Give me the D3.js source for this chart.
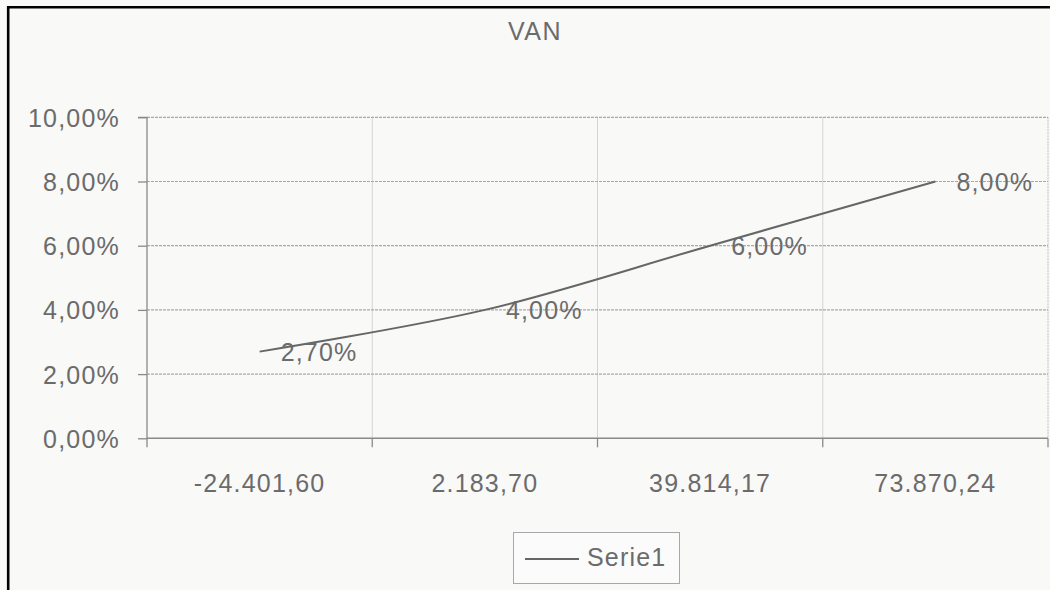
<!DOCTYPE html>
<html>
<head>
<meta charset="utf-8">
<script src="https://cdn.jsdelivr.net/npm/d3@7"></script>
<style>
  html, body { margin: 0; padding: 0; background: #f9f9f8; }
  svg { display: block; }
  text { font-family: "Liberation Sans", Arial, sans-serif; fill: #6b6b6b; }
</style>
</head>
<body>
<svg id="chart" width="1050" height="590"></svg>
<script>
const title = "VAN";
const categories = ["-24.401,60", "2.183,70", "39.814,17", "73.870,24"];
const values = [2.70, 4.00, 6.00, 8.00];
const yTicks = [0, 2, 4, 6, 8, 10];
const seriesName = "Serie1";

const fmtPct = v => v.toFixed(2).replace(".", ",") + "%";

const svg = d3.select("#chart");
const W = 1050, H = 590;
const plot = { left: 147, right: 1048, top: 117.3, bottom: 438.3 };

svg.append("rect").attr("width", W).attr("height", H).attr("fill", "#f9f9f8");

const x = d3.scaleBand().domain(categories).range([plot.left, plot.right]).padding(0);
const y = d3.scaleLinear().domain([0, 10]).range([plot.bottom, plot.top]);

const FS = 25, LS = "1.2px";

// vertical gridlines at category boundaries
svg.append("g").selectAll("line")
  .data(categories.slice(1))
  .join("line")
  .attr("x1", d => x(d)).attr("x2", d => x(d))
  .attr("y1", plot.top).attr("y2", plot.bottom)
  .attr("stroke", "#d4d4d4").attr("stroke-width", 1);

// right border of plot
svg.append("line")
  .attr("x1", plot.right).attr("x2", plot.right)
  .attr("y1", plot.top).attr("y2", plot.bottom)
  .attr("stroke", "#bdbdbd").attr("stroke-width", 1).attr("stroke-dasharray", "2,1");

// horizontal gridlines
svg.append("g").selectAll("line")
  .data(yTicks.filter(d => d > 0))
  .join("line")
  .attr("x1", plot.left).attr("x2", plot.right)
  .attr("y1", d => y(d)).attr("y2", d => y(d))
  .attr("stroke", "#a9a9a9").attr("stroke-width", 1.2).attr("stroke-dasharray", "3,1");

// y axis
const yAxis = d3.axisLeft(y).tickValues(yTicks).tickSize(9).tickPadding(18).tickFormat(fmtPct);
const gy = svg.append("g").attr("transform", `translate(${plot.left},0)`).call(yAxis);
gy.select(".domain").attr("stroke", "#8a8a8a").attr("stroke-width", 1.3)
  .attr("d", `M-9,${plot.top}H0V${plot.bottom + 9}`);
gy.selectAll(".tick line").attr("stroke", "#8a8a8a").attr("stroke-width", 1.3);
gy.selectAll(".tick text")
  .attr("font-size", FS).attr("letter-spacing", LS)
  .attr("fill", "#6b6b6b").attr("font-family", "Liberation Sans, Arial, sans-serif")
  .attr("dy", "0.36em");

// x axis (ticks at category boundaries, labels at centers)
const gx = svg.append("g");
gx.append("line")
  .attr("x1", plot.left).attr("x2", plot.right)
  .attr("y1", plot.bottom).attr("y2", plot.bottom)
  .attr("stroke", "#8a8a8a").attr("stroke-width", 1.5);
gx.selectAll("line.tk")
  .data(categories.slice(1))
  .join("line").attr("class", "tk")
  .attr("x1", d => x(d)).attr("x2", d => x(d))
  .attr("y1", plot.bottom).attr("y2", plot.bottom + 9)
  .attr("stroke", "#8a8a8a").attr("stroke-width", 1.3);
gx.append("line")
  .attr("x1", plot.right).attr("x2", plot.right)
  .attr("y1", plot.bottom).attr("y2", plot.bottom + 9)
  .attr("stroke", "#8a8a8a").attr("stroke-width", 1.3);
gx.selectAll("text")
  .data(categories)
  .join("text")
  .attr("x", d => x(d) + x.bandwidth() / 2)
  .attr("y", 492)
  .attr("text-anchor", "middle")
  .attr("font-size", FS).attr("letter-spacing", LS)
  .text(d => d);

// line
const line = d3.line()
  .x((d, i) => x(categories[i]) + x.bandwidth() / 2)
  .y(d => y(d))
  .curve(d3.curveCatmullRom.alpha(0.5));
svg.append("path")
  .datum(values)
  .attr("d", line)
  .attr("fill", "none")
  .attr("stroke", "#666")
  .attr("stroke-width", 2);

// data labels
svg.append("g").selectAll("text")
  .data(values)
  .join("text")
  .attr("x", (d, i) => x(categories[i]) + x.bandwidth() / 2 + 21)
  .attr("y", d => y(d))
  .attr("dy", "0.36em")
  .attr("font-size", FS).attr("letter-spacing", LS)
  .text(d => fmtPct(d));

// title
svg.append("text")
  .attr("x", 535).attr("y", 39.5)
  .attr("text-anchor", "middle")
  .attr("font-size", FS).attr("letter-spacing", "1.5px")
  .text(title);

// legend
const lg = svg.append("g");
lg.append("rect")
  .attr("x", 513.5).attr("y", 532.5).attr("width", 166).attr("height", 51)
  .attr("fill", "#fbfbfb").attr("stroke", "#a8a8a8").attr("stroke-width", 1);
lg.append("line")
  .attr("x1", 525).attr("x2", 579).attr("y1", 559).attr("y2", 559)
  .attr("stroke", "#666").attr("stroke-width", 2);
lg.append("text")
  .attr("x", 587).attr("y", 566)
  .attr("font-size", FS).attr("letter-spacing", LS)
  .text(seriesName);

// outer frame (top and left edges)
svg.append("path")
  .attr("d", `M8.2,${H} V7.3 H${W}`)
  .attr("fill", "none").attr("stroke", "#000").attr("stroke-width", 2.6);
</script>
</body>
</html>
